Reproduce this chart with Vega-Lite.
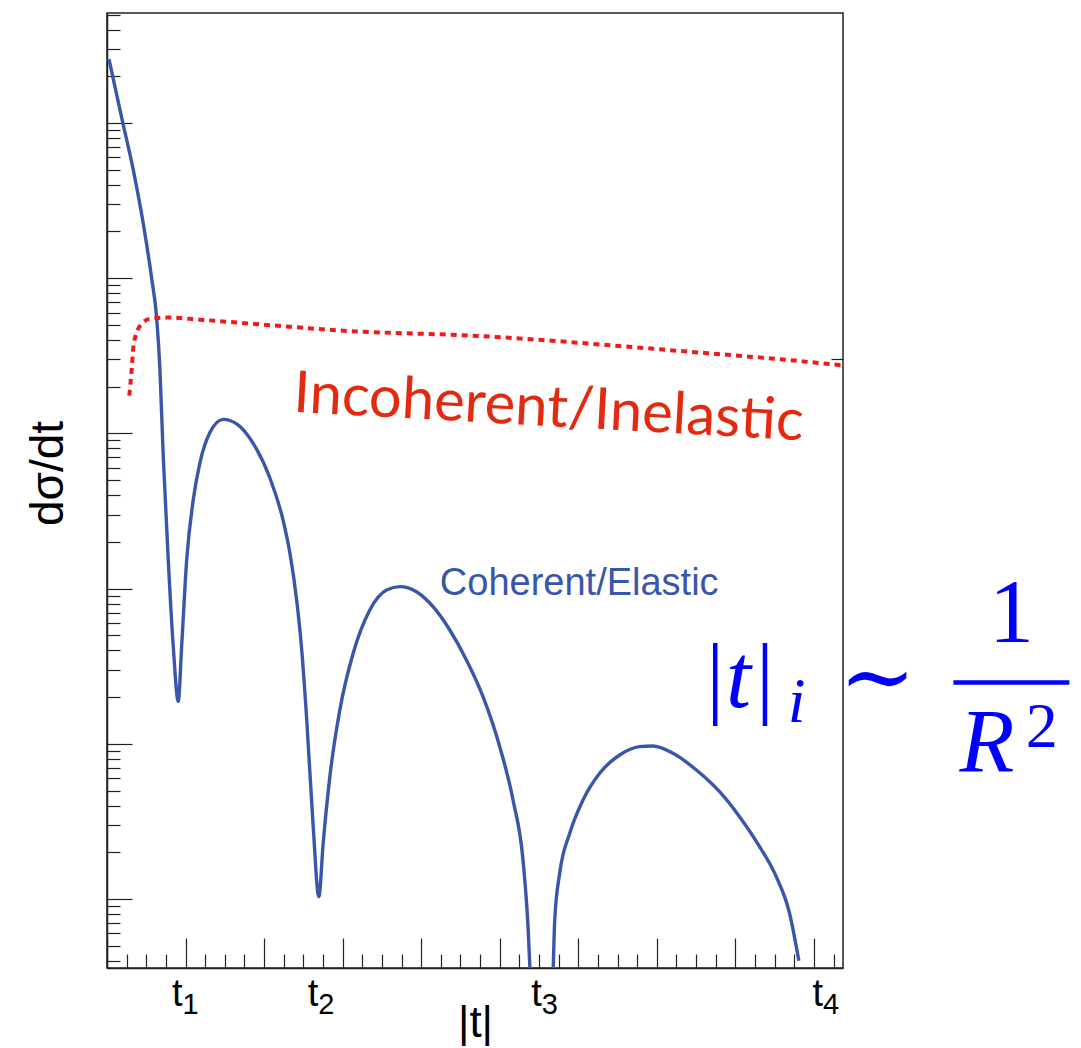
{
  "$schema": "https://vega.github.io/schema/vega-lite/v6.json",
  "width": 736,
  "height": 955,
  "autosize": "none",
  "padding": {"left": 107, "top": 13, "right": 238, "bottom": 80},
  "background": "white",
  "config": {
    "view": {"stroke": "#222", "strokeWidth": 1.5},
    "axis": {"grid": false, "domainColor": "#222", "domainWidth": 1.5, "tickColor": "#222", "tickWidth": 1.2, "labelFont": "Liberation Sans", "titleFont": "Liberation Sans", "labelColor": "black", "titleColor": "black", "titleFontWeight": "normal"}
  },
  "resolve": {"axis": {"x": "independent", "y": "independent"}},
  "layer": [
    {
      "data": {"values": [
        {"t":0.025,"v":258200},{"t":0.2,"v":100900},{"t":0.335,"v":49710},{"t":0.468,"v":21530},{"t":0.569,"v":9950},{"t":0.632,"v":5580},{"t":0.674,"v":2577},{"t":0.716,"v":711.9},{"t":0.78,"v":152},{"t":0.844,"v":42},{"t":0.907,"v":18.79},{"t":0.95,"v":42.05},{"t":1.014,"v":152},{"t":1.098,"v":374},{"t":1.183,"v":646.7},{"t":1.31,"v":1013},{"t":1.48,"v":1231},{"t":1.65,"v":1153},{"t":1.861,"v":863.6},{"t":2.074,"v":515.8},{"t":2.243,"v":274.2},{"t":2.328,"v":170.1},{"t":2.417,"v":82.2},{"t":2.481,"v":39.15},{"t":2.541,"v":14.75},{"t":2.625,"v":2.923},{"t":2.697,"v":1.035},{"t":2.752,"v":2.285},{"t":2.837,"v":6.138},{"t":2.964,"v":16.51},{"t":3.134,"v":38.3},{"t":3.346,"v":72.8},{"t":3.559,"v":97.9},{"t":3.728,"v":102.9},{"t":3.94,"v":95.5},{"t":4.151,"v":76.45},{"t":4.364,"v":54.1},{"t":4.576,"v":34.67},{"t":4.787,"v":20.12},{"t":5.0,"v":9.58},{"t":5.169,"v":4.345},{"t":5.296,"v":1.784},{"t":5.36,"v":0.663},{"t":5.388,"v":0.324},{"t":5.522,"v":0.01},{"t":5.678,"v":0.324},{"t":5.7,"v":0.732},{"t":5.763,"v":1.464},{"t":5.891,"v":2.651},{"t":6.06,"v":4.345},{"t":6.272,"v":6.455},{"t":6.527,"v":8.47},{"t":6.781,"v":9.58},{"t":6.95,"v":9.68},{"t":7.205,"v":8.69},{"t":7.503,"v":6.78},{"t":7.799,"v":4.913},{"t":8.053,"v":3.391},{"t":8.308,"v":2.173},{"t":8.52,"v":1.392},{"t":8.69,"v":0.809},{"t":8.808,"v":0.4003}
      ]},
      "mark": {"type": "line", "color": "#3a56a8", "strokeWidth": 3.4, "clip": true, "interpolate": "monotone"},
      "encoding": {
        "x": {"field": "t", "type": "quantitative", "scale": {"domain": [0, 9.37], "nice": false, "zero": false},
          "axis": {"orient": "bottom", "values": [0,0.25,0.5,0.75,1,1.25,1.5,1.75,2,2.25,2.5,2.75,3,3.25,3.5,3.75,4,4.25,4.5,4.75,5,5.25,5.5,5.75,6,6.25,6.5,6.75,7,7.25,7.5,7.75,8,8.25,8.5,8.75,9,9.25],
            "labels": false, "title": null,
            "tickSize": {"condition": {"test": "abs(datum.value - round(datum.value)) < 0.001", "value": -30}, "value": -14}}},
        "y": {"field": "v", "type": "quantitative", "scale": {"type": "log", "domain": [0.3592, 511400], "nice": false},
          "axis": {"orient": "left", "values": [0.4,0.5,0.6,0.7,0.8,0.9,1,2,3,4,5,6,7,8,9,10,20,30,40,50,60,70,80,90,100,200,300,400,500,600,700,800,900,1000,2000,3000,4000,5000,6000,7000,8000,9000,10000,20000,30000,40000,50000,60000,70000,80000,90000,100000,200000,300000,400000,500000],
            "labels": false, "title": "dσ/dt", "titleFontSize": 46, "titleX": -45, "titleY": 460, "titleAngle": -90, "titleAlign": "center", "titleBaseline": "alphabetic",
            "tickSize": {"condition": {"test": "abs(log(datum.value)/LN10 - round(log(datum.value)/LN10)) < 0.001", "value": -25}, "value": -13}}}
      }
    },
    {
      "data": {"values": [
        {"t":0.284,"v":1752},{"t":0.314,"v":2577},{"t":0.335,"v":3555},{"t":0.378,"v":4455},{"t":0.441,"v":5068},{"t":0.547,"v":5475},{"t":0.76,"v":5580},{"t":1.183,"v":5402},{"t":2.032,"v":5001},{"t":2.964,"v":4603},{"t":4.733,"v":4242},{"t":7.146,"v":3446},{"t":9.317,"v":2758},{"t":9.37,"v":2740}
      ]},
      "mark": {"type": "line", "color": "#f01a1a", "strokeWidth": 4, "strokeDash": [6, 5], "interpolate": "monotone"},
      "encoding": {
        "x": {"field": "t", "type": "quantitative", "scale": {"domain": [0, 9.37], "nice": false, "zero": false},
          "axis": {"orient": "bottom", "values": [0.967, 2.697, 5.541, 9.122], "labelExpr": "'t'", "ticks": false, "domain": false,
            "labelFontSize": 38, "labelBaseline": "alphabetic", "labelPadding": 37, "labelAlign": "right", "labelOffset": -1, "labelFlush": false, "labelOverlap": false,
            "title": "|t|", "titleFontSize": 44, "titleBaseline": "alphabetic", "titleY": 68, "titleAlign": "center"}},
        "y": {"field": "v", "type": "quantitative", "scale": {"type": "log", "domain": [0.3592, 511400], "nice": false},
          "axis": {"orient": "right", "values": [3000], "labels": false, "domain": false, "tickSize": -12, "title": null}}
      }
    },
    {
      "data": {"values": [{"t": 4.237, "v": 90.96, "label": "Coherent/Elastic"}]},
      "mark": {"type": "text", "font": "Liberation Sans", "fontSize": 38, "color": "#3a56a8", "align": "left", "baseline": "alphabetic"},
      "encoding": {
        "x": {"field": "t", "type": "quantitative", "scale": {"domain": [0, 9.37], "nice": false, "zero": false},
          "axis": {"orient": "bottom", "values": [0.967, 2.697, 5.541, 9.122], "labelExpr": "datum.value < 1.5 ? '1' : datum.value < 4 ? '2' : datum.value < 7 ? '3' : '4'", "ticks": false, "domain": false,
            "labelFontSize": 29, "labelBaseline": "alphabetic", "labelPadding": 45, "labelAlign": "left", "labelOffset": -1, "labelFlush": false, "labelOverlap": false, "title": null}},
        "y": {"field": "v", "type": "quantitative", "scale": {"type": "log", "domain": [0.3592, 511400], "nice": false}, "axis": null},
        "text": {"field": "label"}
      }
    },
    {
      "data": {"values": [{"t": 5.611, "v": 1116, "label": "Incoherent/Inelastic"}]},
      "mark": {"type": "text", "font": "Lato", "fontSize": 58, "color": "#e3290f", "align": "center", "baseline": "alphabetic", "angle": 3.2},
      "encoding": {
        "x": {"field": "t", "type": "quantitative", "scale": {"domain": [0, 9.37], "nice": false, "zero": false}, "axis": null},
        "y": {"field": "v", "type": "quantitative", "scale": {"type": "log", "domain": [0.3592, 511400], "nice": false}, "axis": null},
        "text": {"field": "label"}
      }
    },
    {
      "data": {"values": [{"t": 8.041, "v": 17.27, "label": "|t|"}, {"t": 11.202, "v": 6.58, "label": "R"}]},
      "mark": {"type": "text", "font": "Liberation Serif", "fontStyle": "italic", "fontSize": 90, "color": "#0000ff", "align": "center", "baseline": "alphabetic"},
      "encoding": {
        "x": {"field": "t", "type": "quantitative", "scale": {"domain": [0, 9.37], "nice": false, "zero": false}, "axis": null},
        "y": {"field": "v", "type": "quantitative", "scale": {"type": "log", "domain": [0.3592, 511400], "nice": false}, "axis": null},
        "text": {"field": "label"}
      }
    },
    {
      "data": {"values": [{"t": 11.514, "v": 45.29, "label": "1"}]},
      "mark": {"type": "text", "font": "Liberation Serif", "fontSize": 90, "color": "#0000ff", "align": "center", "baseline": "alphabetic"},
      "encoding": {
        "x": {"field": "t", "type": "quantitative", "scale": {"domain": [0, 9.37], "nice": false, "zero": false}, "axis": null},
        "y": {"field": "v", "type": "quantitative", "scale": {"type": "log", "domain": [0.3592, 511400], "nice": false}, "axis": null},
        "text": {"field": "label"}
      }
    },
    {
      "data": {"values": [{"t": 9.809, "v": 17.0, "label": "∼"}]},
      "mark": {"type": "text", "font": "DejaVu Serif", "fontSize": 92, "color": "#0000ff", "align": "center", "baseline": "alphabetic"},
      "encoding": {
        "x": {"field": "t", "type": "quantitative", "scale": {"domain": [0, 9.37], "nice": false, "zero": false}, "axis": null},
        "y": {"field": "v", "type": "quantitative", "scale": {"type": "log", "domain": [0.3592, 511400], "nice": false}, "axis": null},
        "text": {"field": "label"}
      }
    },
    {
      "data": {"values": [{"t": 8.779, "v": 13.82, "label": "i"}]},
      "mark": {"type": "text", "font": "Liberation Serif", "fontStyle": "italic", "fontSize": 64, "color": "#0000ff", "align": "center", "baseline": "alphabetic"},
      "encoding": {
        "x": {"field": "t", "type": "quantitative", "scale": {"domain": [0, 9.37], "nice": false, "zero": false}, "axis": null},
        "y": {"field": "v", "type": "quantitative", "scale": {"type": "log", "domain": [0.3592, 511400], "nice": false}, "axis": null},
        "text": {"field": "label"}
      }
    },
    {
      "data": {"values": [{"t": 11.9, "v": 9.54, "label": "2"}]},
      "mark": {"type": "text", "font": "Liberation Serif", "fontSize": 64, "color": "#0000ff", "align": "center", "baseline": "alphabetic"},
      "encoding": {
        "x": {"field": "t", "type": "quantitative", "scale": {"domain": [0, 9.37], "nice": false, "zero": false}, "axis": null},
        "y": {"field": "v", "type": "quantitative", "scale": {"type": "log", "domain": [0.3592, 511400], "nice": false}, "axis": null},
        "text": {"field": "label"}
      }
    },
    {
      "data": {"values": [{"t": 10.776, "t2": 12.252, "v": 24.83}]},
      "mark": {"type": "rule", "color": "#0000ff", "strokeWidth": 4.5},
      "encoding": {
        "x": {"field": "t", "type": "quantitative", "scale": {"domain": [0, 9.37], "nice": false, "zero": false}, "axis": null},
        "x2": {"field": "t2"},
        "y": {"field": "v", "type": "quantitative", "scale": {"type": "log", "domain": [0.3592, 511400], "nice": false}, "axis": null}
      }
    }
  ]
}
